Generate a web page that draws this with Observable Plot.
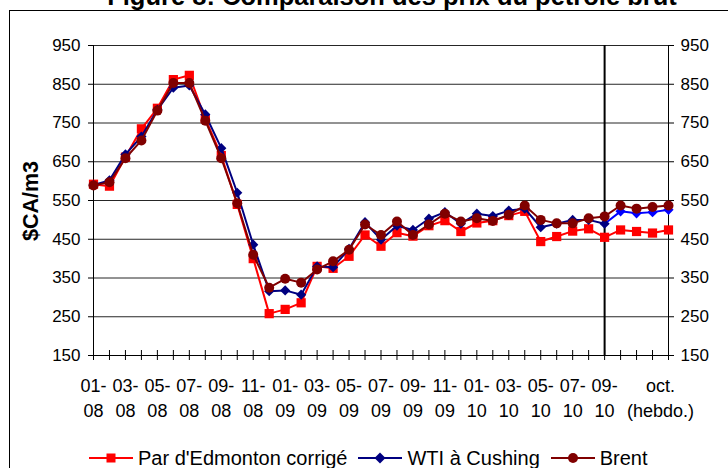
<!DOCTYPE html>
<html><head><meta charset="utf-8">
<script src="https://cdn.jsdelivr.net/npm/d3@7"></script>
<script src="https://cdn.jsdelivr.net/npm/@observablehq/plot@0.6"></script>
<style>
html,body{margin:0;padding:0;background:#fff;}
#wrap{position:relative;width:728px;height:468px;overflow:hidden;font-family:"Liberation Sans",Arial,sans-serif;color:#000;}
#frame{position:absolute;left:9px;top:10px;width:800px;height:500px;border:1.5px solid #000;box-sizing:border-box;}
#title{position:absolute;left:28px;width:728px;top:-17px;text-align:center;font-weight:bold;font-size:25.5px;line-height:26px;white-space:nowrap;}
#chart{position:absolute;left:0;top:0;}
#ylab{position:absolute;left:31px;top:201px;transform:translate(-50%,-50%) rotate(-90deg);font-weight:bold;font-size:21.5px;white-space:nowrap;}
#legend{position:absolute;left:89px;top:446px;display:flex;gap:11px;font-size:20px;line-height:24px;align-items:center;white-space:nowrap;}
.item{display:flex;align-items:center;gap:5px;}
</style>
</head><body>
<div id="wrap">
  <div id="frame"></div>
  <div id="title">Figure 8: Comparaison des prix du pétrole brut</div>
  <div id="chart"></div>
  <div id="ylab">$CA/m3</div>
  <div id="legend"></div>
</div>
<script>
// Categories: monthly Jan 2008 - Sep 2010, then four weekly October 2010 points
const months = ["01-08","02-08","03-08","04-08","05-08","06-08","07-08","08-08","09-08","10-08","11-08","12-08",
                "01-09","02-09","03-09","04-09","05-09","06-09","07-09","08-09","09-09","10-09","11-09","12-09",
                "01-10","02-10","03-10","04-10","05-10","06-10","07-10","08-10","09-10"];
const weeks = ["oct-s1","oct-s2","oct-s3","oct-s4"];
const periods = months.concat(weeks);

// Series values ($CA/m3)
const edmonton = [592,587,662,735,788,862,873,761,666,540,400,258,269,286,380,375,406,461,432,467,458,485,498,470,492,498,511,522,444,457,471,477,455,474,470,466,474];
const wti      = [590,602,669,715,784,841,847,772,685,570,436,316,318,307,380,378,425,494,449,485,474,503,520,490,516,510,524,529,481,490,500,500,490,522,517,520,526];
const brent    = [589,597,659,705,782,853,853,756,659,543,410,325,348,338,372,393,423,488,461,496,461,488,516,496,504,497,513,537,500,491,491,504,509,537,529,533,537];

// Tick labels
const yTicks = [150,250,350,450,550,650,750,850,950];
const monthTickLabels = ["01-\n08","03-\n08","05-\n08","07-\n08","09-\n08","11-\n08","01-\n09","03-\n09","05-\n09","07-\n09","09-\n09","11-\n09","01-\n10","03-\n10","05-\n10","07-\n10","09-\n10"];
const weeklyTickLabel = "oct.\n(hebdo.)";

const seriesNames = ["Par d'Edmonton corrigé","WTI à Cushing","Brent"];
const colors = {edm:"#ff0000", wti:"#000080", wtiWeekly:"#0000ff", brent:"#800000"};

const idx = d3.range(periods.length);
const lastMonth = months.length - 1;
const labelPos = new Map();
monthTickLabels.forEach((l,i) => labelPos.set(i*2, l));
const weeklyPos = (periods.length - 2 + periods.length - 1) / 2;
labelPos.set(weeklyPos, weeklyTickLabel);

const rows = idx.map(i => ({i, edm: edmonton[i], wti: wti[i], brent: brent[i], weekly: i > lastMonth}));
const monthly = rows.filter(d => !d.weekly);
const weeklyRows = rows.filter(d => d.i >= lastMonth);
const weeklyOnly = rows.filter(d => d.weekly);

const chart = Plot.plot({
  width: 728, height: 430,
  marginTop: 45, marginLeft: 93, marginRight: 60, marginBottom: 75,
  style: {fontFamily: '"Liberation Sans", Arial, sans-serif', fontSize: "17px", color: "#000", background: "transparent", overflow: "visible"},
  x: {type: "linear", domain: [0, periods.length - 1], axis: null},
  y: {domain: [yTicks[0], yTicks[yTicks.length - 1]], axis: null},
  marks: [
    Plot.gridY(yTicks.slice(1), {stroke: "#000", strokeOpacity: 0.85, strokeWidth: 1}),
    Plot.axisY(yTicks, {anchor: "left", tickSize: 5, tickPadding: 8, label: null, fontSize: 17}),
    Plot.axisY(yTicks, {anchor: "right", tickSize: 5, tickPadding: 7, label: null, fontSize: 17}),
    Plot.ruleY([yTicks[0]], {stroke: "#000"}),
    Plot.ruleX([0, periods.length - 1], {stroke: "#000"}),
    Plot.ruleX([lastMonth], {stroke: "#000", strokeWidth: 2}),
    // Edmonton
    Plot.line(rows, {x: "i", y: "edm", stroke: colors.edm, strokeWidth: 2}),
    Plot.dot(rows, {x: "i", y: "edm", symbol: "square", r: 5.2, fill: colors.edm, stroke: null}),
    // WTI
    Plot.line(monthly, {x: "i", y: "wti", stroke: colors.wti, strokeWidth: 2}),
    Plot.line(weeklyRows, {x: "i", y: "wti", stroke: colors.wtiWeekly, strokeWidth: 2}),
    Plot.dot(monthly, {x: "i", y: "wti", symbol: "diamond2", r: 4.6, fill: colors.wti, stroke: null}),
    Plot.dot(weeklyOnly, {x: "i", y: "wti", symbol: "diamond2", r: 4.6, fill: colors.wtiWeekly, stroke: null}),
    // Brent
    Plot.line(rows, {x: "i", y: "brent", stroke: colors.brent, strokeWidth: 2}),
    Plot.dot(rows, {x: "i", y: "brent", symbol: "circle", r: 5, fill: colors.brent, stroke: null}),
    // x ticks crossing axis
    Plot.axisX(idx, {anchor: "bottom", tickSize: 10, dy: -5, tickFormat: () => "", label: null}),
    // x labels
    Plot.axisX([...labelPos.keys()], {anchor: "bottom", tickSize: 0, tickPadding: 19, tickFormat: d => labelPos.get(d), lineHeight: 1.38, label: null, fontSize: 18})
  ]
});
document.getElementById("chart").appendChild(chart);

// Legend
const legend = document.getElementById("legend");
const sw = [
  {c: colors.edm, m: '<rect x="17.5" y="2.5" width="9" height="9" fill="#ff0000"/>'},
  {c: colors.wti, m: '<path d="M22 1.5 L27.5 7 L22 12.5 L16.5 7 Z" fill="#000080"/>'},
  {c: colors.brent, m: '<circle cx="22" cy="7" r="5" fill="#800000"/>'}
];
seriesNames.forEach((name, k) => {
  const it = document.createElement("div");
  it.className = "item";
  it.innerHTML = `<svg width="44" height="14"><line x1="0" x2="44" y1="7" y2="7" stroke="${sw[k].c}" stroke-width="2"/>${sw[k].m}</svg><span>${name}</span>`;
  legend.appendChild(it);
});
</script>
</body></html>
